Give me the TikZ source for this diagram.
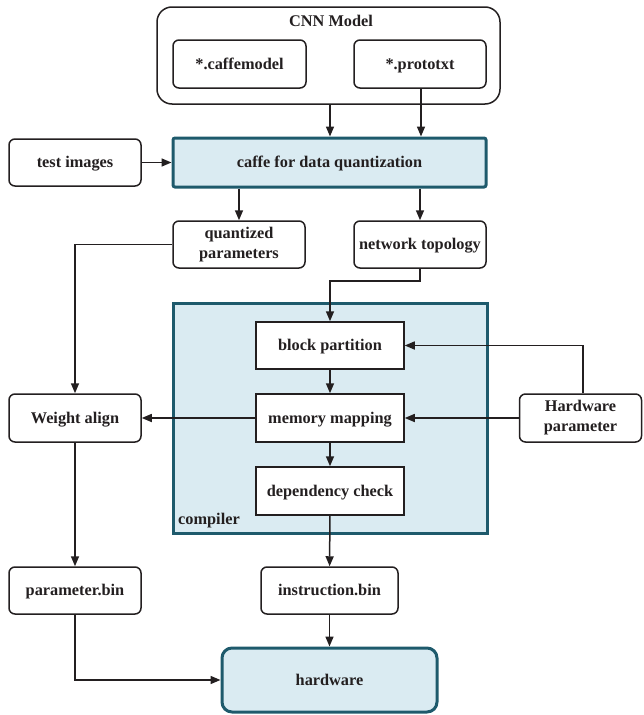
\documentclass[tikz,border=0pt]{standalone}
\usepackage{fontspec}
\setmainfont{Liberation Serif}
\usetikzlibrary{arrows.meta}
\definecolor{lineblk}{HTML}{231F20}
\definecolor{fillblue}{HTML}{DAEBF2}
\definecolor{tealb}{HTML}{1E5A6C}
\tikzset{
  basebox/.style={draw=lineblk, line width=1.5pt, fill=white, rounded corners=6pt, align=center,
    font=\fontsize{16.3}{19}\selectfont\bfseries, text=lineblk, inner sep=0pt},
  box/.style={basebox, text height=12pt, text depth=2pt},
  twoline/.style={basebox, font=\fontsize{16.3}{20}\selectfont\bfseries},
  sqbox/.style={box, rounded corners=0pt},
  hibox/.style={box, draw=tealb, fill=fillblue, line width=3pt, rounded corners=2pt},
  lbl/.style={font=\fontsize{16.3}{19}\selectfont\bfseries, text=lineblk, inner sep=0pt},
  conn/.style={draw=lineblk, line width=1.5pt, -{Triangle[length=10pt,width=8pt]}},
}
\begin{document}
\begin{tikzpicture}[x=1pt,y=-1pt]
\useasboundingbox (0,0) rectangle (643,715);
% CNN model container
\node[basebox, rounded corners=15pt, minimum width=343pt, minimum height=97pt] (cnn) at (328.5,55.5) {};
\node[lbl] (cnnlabel) at (331,21) {CNN Model};
\node[box, minimum width=133pt, minimum height=48pt] (cm) at (239.5,64) {*.caffemodel};
\node[box, minimum width=132pt, minimum height=48pt] (pt) at (420,64) {*.prototxt};
% caffe
\node[hibox, minimum width=313pt, minimum height=49pt] (caffe) at (329.5,162.5) {caffe for data quantization};
\node[box, minimum width=132pt, minimum height=47pt] (test) at (75,162.5) {test images};
\node[twoline, minimum width=132pt, minimum height=47pt] (quant) at (239,244.5) {quantized\\parameters};
\node[box, minimum width=132pt, minimum height=47pt] (topo) at (420,244.5) {network topology};
% compiler
\node[hibox, rounded corners=0pt, minimum width=314pt, minimum height=230pt] (comp) at (330,418) {};
\node[lbl, anchor=west] (complabel) at (178,521) {compiler};
\node[sqbox, minimum width=148pt, minimum height=47pt] (block) at (330,345.5) {block partition};
\node[sqbox, minimum width=148pt, minimum height=48pt] (mem) at (330,418) {memory mapping};
\node[sqbox, minimum width=148pt, minimum height=48pt] (dep) at (330,491) {dependency check};
\node[box, minimum width=132pt, minimum height=48pt] (weight) at (75,418) {Weight align};
\node[twoline, minimum width=122pt, minimum height=48pt] (hwp) at (580.5,418) {Hardware\\parameter};
\node[box, minimum width=132pt, minimum height=47pt] (pbin) at (75,590.5) {parameter.bin};
\node[box, minimum width=137pt, minimum height=47pt] (ibin) at (329.5,590.5) {instruction.bin};
\node[hibox, rounded corners=10pt, minimum width=215pt, minimum height=64pt] (hw) at (329.5,680) {hardware};
% connectors
\draw[conn] (cnn.south -| 330,0) -- (caffe.north -| 330,0);
\draw[conn] (pt.south) ++(1,0) -- (caffe.north -| 421,0);
\draw[conn] (test) -- (caffe);
\draw[conn] (caffe.south -| quant.north) -- (quant.north);
\draw[conn] (caffe.south -| topo.north) -- (topo.north);
\draw[conn] (quant.west) -| (weight.north);
\draw[conn] (topo.south) -- ++(0,12) -| (block.north);
\draw[conn] (hwp.north -| 583,0) |- (block.east);
\draw[conn] (hwp.west) -- (mem.east);
\draw[conn] (mem.west) -- (weight.east);
\draw[conn] (block) -- (mem);
\draw[conn] (mem) -- (dep);
\draw[conn] (dep) -- (ibin);
\draw[conn] (ibin) -- (hw);
\draw[conn] (weight) -- (pbin);
\draw[conn] (pbin.south) |- (hw.west);
\end{tikzpicture}
\end{document}
